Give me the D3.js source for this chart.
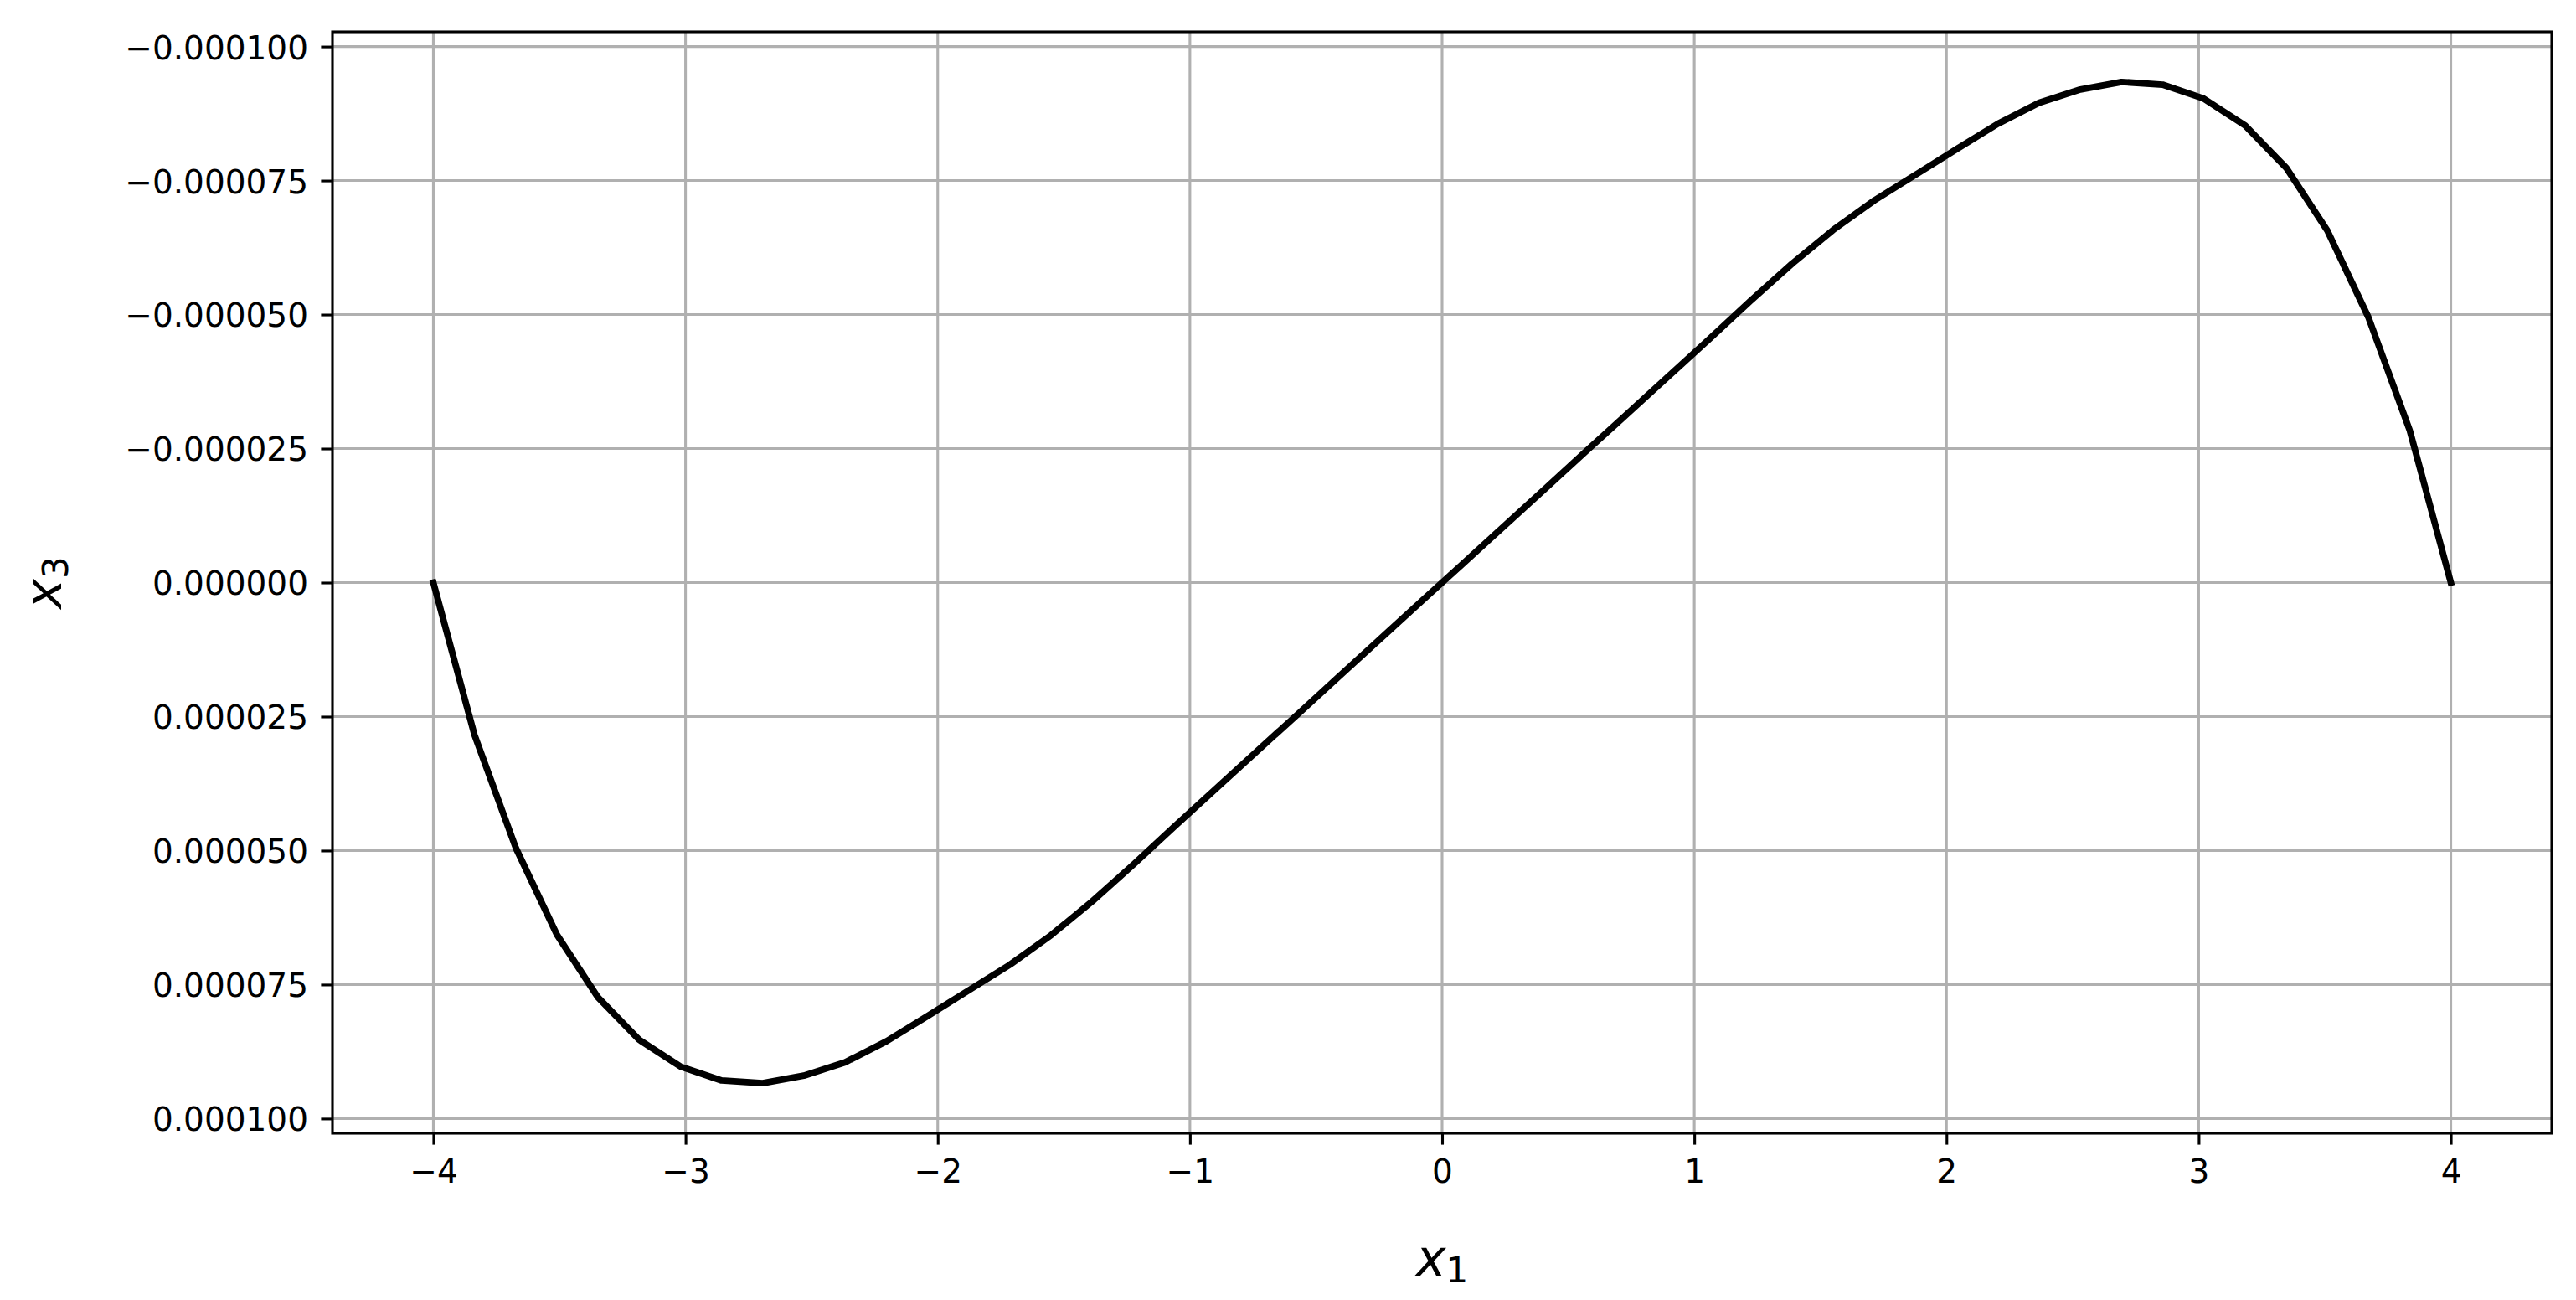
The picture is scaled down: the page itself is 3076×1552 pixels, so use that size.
<!DOCTYPE html>
<html>
<head>
<meta charset="utf-8">
<script src="https://cdn.jsdelivr.net/npm/d3@7"></script>
<style>
    body { margin: 0; background: #fff; }
    text { font-family: "DejaVu Sans", sans-serif; fill: #000; }
</style>
</head>
<body>
<svg id="chart"></svg>
<script>
// x1 samples (50 points from -4 to 4)
const x1Values = [
    -4.000, -3.837, -3.673, -3.510, -3.347, -3.184, -3.020, -2.857, -2.694, -2.531,
    -2.367, -2.204, -2.041, -1.878, -1.714, -1.551, -1.388, -1.224, -1.061, -0.898,
    -0.735, -0.571, -0.408, -0.245, -0.082, 0.082, 0.245, 0.408, 0.571, 0.735,
    0.898, 1.061, 1.224, 1.388, 1.551, 1.714, 1.878, 2.041, 2.204, 2.367,
    2.531, 2.694, 2.857, 3.020, 3.184, 3.347, 3.510, 3.673, 3.837, 4.000
];

// x3 values
const x3Values = [
    0, 2.84e-5, 4.95e-5, 6.57e-5, 7.74e-5, 8.53e-5, 9.03e-5, 9.29e-5, 9.34e-5, 9.20e-5,
    8.95e-5, 8.56e-5, 8.09e-5, 7.61e-5, 7.13e-5, 6.58e-5, 5.95e-5, 5.26e-5, 4.55e-5, 3.85e-5,
    3.15e-5, 2.45e-5, 1.75e-5, 1.05e-5, 3.5e-6, -3.5e-6, -1.05e-5, -1.75e-5, -2.45e-5, -3.15e-5,
    -3.85e-5, -4.55e-5, -5.26e-5, -5.95e-5, -6.58e-5, -7.13e-5, -7.61e-5, -8.09e-5, -8.56e-5, -8.95e-5,
    -9.20e-5, -9.34e-5, -9.29e-5, -9.03e-5, -8.53e-5, -7.74e-5, -6.57e-5, -4.95e-5, -2.84e-5, 0
];

const xTicks = [-4, -3, -2, -1, 0, 1, 2, 3, 4];
const yTicks = [-0.0001, -0.000075, -0.00005, -0.000025, 0, 0.000025, 0.00005, 0.000075, 0.0001];

const width = 3076, height = 1552;
const plotLeft = 397, plotRight = 3047, plotTop = 38, plotBottom = 1353;
const fontSize = 39, labelSize = 60;

const svg = d3.select("#chart")
    .attr("width", width)
    .attr("height", height);

svg.append("rect")
    .attr("width", width)
    .attr("height", height)
    .attr("fill", "#fff");

const x = d3.scaleLinear().domain([-4.4, 4.4]).range([plotLeft, plotRight]);
// y axis is inverted: negative values at the top
const y = d3.scaleLinear().domain([-1.0275e-4, 1.0275e-4]).range([plotTop, plotBottom]);

const minus = s => s.replace("-", "\u2212");

// Grid
const grid = svg.append("g").attr("stroke", "#b0b0b0").attr("stroke-width", 3.1);
grid.selectAll(".gx")
    .data(xTicks)
    .enter()
    .append("line")
    .attr("x1", d => x(d)).attr("x2", d => x(d))
    .attr("y1", plotTop).attr("y2", plotBottom);
grid.selectAll(".gy")
    .data(yTicks)
    .enter()
    .append("line")
    .attr("x1", plotLeft).attr("x2", plotRight)
    .attr("y1", d => y(d)).attr("y2", d => y(d));

// Curve
const line = d3.line()
    .x((d, i) => x(x1Values[i]))
    .y(d => y(d));

svg.append("path")
    .datum(x3Values)
    .attr("d", line)
    .attr("fill", "none")
    .attr("stroke", "#000")
    .attr("stroke-width", 7.8)
    .attr("stroke-linejoin", "round")
    .attr("stroke-linecap", "square");

// Axes
const xAxis = svg.append("g")
    .attr("transform", `translate(0, ${plotBottom})`)
    .call(d3.axisBottom(x)
        .tickValues(xTicks)
        .tickFormat(d => minus(String(d)))
        .tickSize(13.6)
        .tickSizeOuter(0)
        .tickPadding(17.5));

const yAxis = svg.append("g")
    .attr("transform", `translate(${plotLeft}, 0)`)
    .call(d3.axisLeft(y)
        .tickValues(yTicks)
        .tickFormat(d => minus(d.toFixed(6)))
        .tickSize(13.6)
        .tickSizeOuter(0)
        .tickPadding(15.4));

[xAxis, yAxis].forEach(g => {
    g.select(".domain").remove();
    g.selectAll(".tick line").attr("stroke", "#000").attr("stroke-width", 3.1);
    g.selectAll(".tick text")
        .attr("fill", "#000")
        .style("font-family", "'DejaVu Sans', sans-serif")
        .style("font-size", fontSize + "px");
});
yAxis.selectAll(".tick text").attr("dy", "0.37em");

// Frame (spines)
svg.append("rect")
    .attr("x", plotLeft)
    .attr("y", plotTop)
    .attr("width", plotRight - plotLeft)
    .attr("height", plotBottom - plotTop)
    .attr("fill", "none")
    .attr("stroke", "#000")
    .attr("stroke-width", 3.1);

// Axis labels
function mathLabel(sel, base, sub) {
    sel.style("font-size", labelSize + "px")
        .attr("text-anchor", "middle");
    sel.append("tspan").style("font-style", "italic").text(base);
    sel.append("tspan")
        .attr("dy", 8)
        .style("font-size", (labelSize * 0.7) + "px")
        .text(sub);
}

svg.append("text")
    .attr("x", (plotLeft + plotRight) / 2)
    .attr("y", 1523)
    .call(mathLabel, "x", "1");

svg.append("text")
    .attr("transform", `translate(73, ${y(0)}) rotate(-90)`)
    .call(mathLabel, "x", "3");
</script>
</body>
</html>
